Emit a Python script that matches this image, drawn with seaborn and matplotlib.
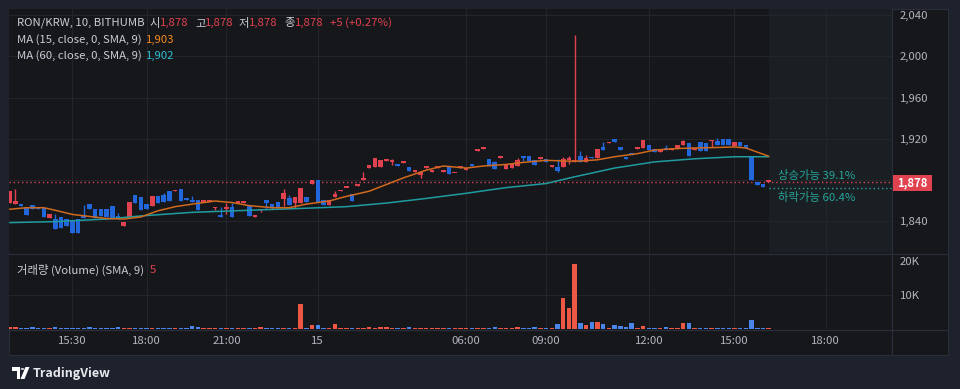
import numpy as np
import pandas as pd
import matplotlib
matplotlib.use('Agg')
import matplotlib.pyplot as plt
from matplotlib.patches import Rectangle, Polygon, Circle
from matplotlib.lines import Line2D
import seaborn as sns

# ---- data (10-minute candles, RON/KRW, Bithumb) ----
opens = [1858, 1856.5, 1856, 1854, 1856, 1853.5, 1853, 1843, 1842.5, 1843.5,
         1842.5, 1840.5, 1842.5, 1846, 1856.5, 1851.5, 1851.5, 1851.5, 1855, 1844.5,
         1835, 1844, 1865.5, 1863, 1857, 1854.5, 1864, 1865, 1869, 1869,
         1871.5, 1862.5, 1860.5, 1860.5, 1859, 1858.5, 1852.5, 1846, 1851.5, 1853.5,
         1857.5, 1857.5, 1855, 1844, 1850.5, 1860, 1856.5, 1858.5, 1861, 1862.5,
         1858, 1857.5, 1863, 1876.5, 1880, 1860.5, 1856, 1863.5, 1869, 1872,
         1866, 1874.5, 1880, 1892, 1892.5, 1892.5, 1898, 1897.5, 1895.5, 1896.5,
         1893, 1888, 1884.5, 1892, 1888, 1891.5, 1888, 1892.5, 1886.5, 1892,
         1890, 1895.5, 1908.5, 1910.5, 1900, 1897.5, 1901.5, 1890.5, 1891.5, 1893.5,
         1903.5, 1903.5, 1899, 1900.5, 1900, 1892.5, 1893, 1892.5, 1899.5, 1897.5,
         1903.5, 1897.5, 1902.5, 1901.5, 1911.5, 1915.5, 1919.5, 1911.5, 1902, 1906,
         1910.5, 1911, 1914, 1910, 1907, 1911, 1909.5, 1910.5, 1913.5, 1916,
         1909.5, 1916.5, 1916, 1917.5, 1917.5, 1919.5, 1919.5, 1913, 1916.5, 1914,
         1902.5, 1877.5, 1876, 1878]
highs = [1869, 1871.5, 1856, 1854, 1856, 1853.5, 1853, 1847, 1847, 1843.5,
         1842.5, 1840.5, 1842.5, 1855.5, 1856.5, 1851.5, 1851.5, 1851.5, 1855, 1847.5,
         1839.5, 1858.5, 1865.5, 1863, 1857, 1864.5, 1864, 1867, 1869, 1870.5,
         1871.5, 1862.5, 1864.5, 1860.5, 1860.5, 1859.5, 1854, 1853.5, 1857.5, 1857.5,
         1858, 1858.5, 1855, 1845, 1851.5, 1860, 1856.5, 1858.5, 1871.5, 1865,
         1863, 1872, 1863, 1880, 1880, 1860.5, 1860.5, 1869, 1870, 1872.5,
         1866, 1875.5, 1887.5, 1894, 1901.5, 1899, 1900, 1900.5, 1895.5, 1897.5,
         1893, 1889.5, 1888, 1893.5, 1889.5, 1892.5, 1889.5, 1892.5, 1887, 1893,
         1891.5, 1895.5, 1909.5, 1912, 1900, 1898.5, 1902, 1894.5, 1895, 1901.5,
         1903.5, 1903.5, 1899, 1902, 1900, 1894, 1900, 1902.5, 1903, 2021,
         1908, 1904.5, 1902.5, 1910.5, 1917, 1917, 1919.5, 1911.5, 1902, 1906,
         1912, 1918.5, 1914, 1910, 1908, 1913.5, 1910.5, 1914, 1918.5, 1916,
         1910.5, 1916.5, 1916, 1918.5, 1921, 1919.5, 1919.5, 1917, 1916.5, 1914,
         1902.5, 1877.5, 1876, 1878]
lows = [1858, 1856.5, 1855, 1846, 1851.5, 1851.5, 1844, 1843, 1832.5, 1833,
        1835.5, 1828, 1828, 1843, 1851.5, 1843, 1844.5, 1844, 1842.5, 1842.5,
        1835, 1844, 1857.5, 1850.5, 1852, 1854.5, 1858, 1858.5, 1859.5, 1869,
        1859.5, 1860, 1858.5, 1851, 1859, 1858.5, 1850.5, 1843.5, 1847, 1844,
        1857.5, 1857.5, 1845, 1844, 1849, 1851.5, 1851.5, 1853, 1855, 1855.5,
        1853, 1857.5, 1858.5, 1876.5, 1858.5, 1856, 1856, 1863.5, 1869, 1872,
        1859.5, 1874.5, 1880, 1892, 1892.5, 1892.5, 1898, 1894, 1893.5, 1896.5,
        1888.5, 1888, 1882, 1892, 1888, 1891.5, 1888, 1885.5, 1886.5, 1892,
        1890, 1893.5, 1908.5, 1910.5, 1893.5, 1891, 1901.5, 1890.5, 1891.5, 1893.5,
        1898, 1898, 1894.5, 1900.5, 1897, 1892.5, 1887.5, 1892.5, 1895.5, 1897,
        1897.5, 1897.5, 1901, 1901.5, 1909.5, 1915.5, 1917, 1909.5, 1900, 1904,
        1910.5, 1911, 1909, 1907, 1907, 1909, 1909.5, 1910.5, 1913.5, 1903.5,
        1909.5, 1908.5, 1908.5, 1912, 1913.5, 1913.5, 1913.5, 1913, 1912.5, 1911,
        1879.5, 1875.5, 1873, 1878]
closes = [1869, 1859.5, 1855, 1846, 1851.5, 1851.5, 1844, 1847, 1832.5, 1833,
          1835.5, 1828, 1828, 1843, 1851.5, 1843, 1844.5, 1844, 1842.5, 1842.5,
          1839.5, 1858.5, 1857.5, 1850.5, 1852, 1864.5, 1858, 1858.5, 1859.5, 1870.5,
          1859.5, 1860, 1858.5, 1851, 1860.5, 1859.5, 1854, 1843.5, 1853.5, 1844,
          1858, 1858.5, 1845, 1845, 1851.5, 1857.5, 1854, 1853, 1867, 1855.5,
          1863, 1872, 1858.5, 1880, 1858.5, 1856, 1860.5, 1866, 1870, 1872.5,
          1859.5, 1875.5, 1880.5, 1894, 1901.5, 1899, 1900, 1898.5, 1893.5, 1897.5,
          1888.5, 1889.5, 1888, 1893.5, 1889.5, 1892.5, 1889.5, 1885.5, 1887, 1893,
          1891.5, 1893.5, 1909.5, 1912, 1893.5, 1891, 1902, 1894.5, 1895, 1899,
          1901, 1898, 1894.5, 1902, 1897, 1894, 1889, 1900.5, 1901, 1899,
          1897.5, 1901, 1901, 1910.5, 1909.5, 1917, 1917, 1909.5, 1900, 1904,
          1912, 1918.5, 1909, 1907, 1908, 1909, 1910.5, 1914, 1917.5, 1903.5,
          1910.5, 1908.5, 1908.5, 1918.5, 1913.5, 1913.5, 1913.5, 1917, 1912.5, 1911,
          1879.5, 1875.5, 1873, 1878]
volumes = [500, 500, 300, 300, 500, 300, 300, 300, 500, 300,
           300, 300, 300, 300, 500, 300, 300, 300, 300, 500,
           300, 300, 300, 300, 300, 300, 300, 300, 300, 300,
           300, 300, 900, 500, 300, 300, 300, 300, 300, 300,
           300, 300, 300, 300, 500, 300, 300, 300, 300, 300,
           300, 7450, 300, 1160, 1160, 300, 400, 1450, 300, 300,
           300, 300, 300, 500, 300, 500, 500, 300, 300, 300,
           500, 300, 300, 300, 300, 300, 300, 300, 300, 300,
           300, 300, 300, 300, 300, 500, 300, 300, 300, 500,
           300, 300, 500, 300, 300, 300, 1450, 9070, 6090, 19040,
           1740, 1060, 2030, 2030, 1450, 400, 1160, 870, 580, 1640,
           300, 870, 300, 300, 300, 500, 300, 300, 1640, 1640,
           300, 300, 300, 300, 300, 300, 300, 300, 300, 300,
           2610, 300, 300, 300]

# moving averages (bar index, value)
ma15_idx = [0, 3, 6, 8, 11, 14, 17, 20, 23, 26, 29, 32, 36, 39, 42, 46, 49, 52, 56, 59,
            63, 66, 69, 73, 76, 80, 83, 87, 90, 94, 99, 103, 106, 110, 113, 117, 120,
            124, 127, 129, 131, 133]
ma15_val = [1851.5, 1853, 1853, 1850.5, 1846.5, 1844.5, 1842.5, 1842, 1844, 1850, 1854,
            1856.5, 1859.5, 1858, 1855, 1853, 1853, 1856.5, 1859.5, 1864, 1869, 1875.5,
            1882, 1889.5, 1893.5, 1891.5, 1893.5, 1895, 1897, 1899, 1898, 1899.5, 1902.5,
            1905.5, 1909, 1910.5, 1911, 1911.5, 1912, 1911, 1907, 1903]
ma60_idx = [0, 8, 17, 23, 32, 42, 52, 59, 66, 73, 80, 87, 94, 99, 106, 113, 120, 127, 133]
ma60_val = [1838.5, 1839.5, 1842, 1845, 1848.5, 1850.5, 1852.5, 1854, 1857.5, 1862, 1867,
            1872.5, 1876.5, 1883, 1891.5, 1897.5, 1900.5, 1902.5, 1902.5]

time_ticks = [11, 24, 38, 54, 80, 94, 112, 127, 143]
time_labels = ['15:30', '18:00', '21:00', '15', '06:00', '09:00', '12:00', '15:00', '18:00']
price_ticks = [1840, 1880, 1920, 1960, 2000, 2040]
price_labels = ['1,840', '', '1,920', '1,960', '2,000', '2,040']
vol_ticks = [10000, 20000]
vol_labels = ['10K', '20K']
last_price = 1878

# ---- style ----
FRAME = '#1e222d'
BG = '#16171b'
FUTURE = '#1a1f23'
GRID = '#23252b'
SEP = '#2a2e39'
TXT = '#b2b5be'
UP = '#e0424f'
DOWN = '#2266db'
VUP = '#ee5744'
VDOWN = '#4a86ea'
TEAL = '#26a69a'
FS = 8.2

sns.set_theme(style='dark')
plt.rcParams['font.family'] = ['Noto Sans CJK KR', 'DejaVu Sans']

W, H = 960, 389
def fx(x):
    return x / W
def fy(y):
    return 1 - y / H

df = pd.DataFrame({'o': opens, 'h': highs, 'l': lows, 'c': closes, 'v': volumes})
df['i'] = np.arange(len(df))
df['up'] = df['c'] >= df['o']

fig = plt.figure(figsize=(9.6, 3.89), dpi=100, facecolor=FRAME)
fig.patches.append(Rectangle((fx(9), fy(355)), fx(948) - fx(9), fy(9) - fy(355),
                             transform=fig.transFigure, facecolor=BG,
                             edgecolor=SEP, lw=0.8, zorder=-5))

ax_p = fig.add_axes([fx(9), fy(253), fx(892) - fx(9), fy(9) - fy(253)])
ax_v = fig.add_axes([fx(9), fy(329), fx(892) - fx(9), fy(255) - fy(329)], sharex=ax_p)

for ax in (ax_p, ax_v):
    ax.set_facecolor(BG)
    for s in ax.spines.values():
        s.set_visible(False)
    ax.set_xticks(time_ticks)
    ax.grid(True, axis='x', color=GRID, lw=0.8)
    ax.set_axisbelow(True)

# ---- price pane ----
ax_p.axvspan(133, 160, color=FUTURE, zorder=0, lw=0)
ax_p.set_yticks(price_ticks)
ax_p.grid(True, axis='y', color=GRID, lw=0.8)

col = np.where(df['up'], UP, DOWN)
ax_p.vlines(df['i'], df['l'], df['h'], colors=col, lw=1.0, zorder=2)
body = np.maximum((df['c'] - df['o']).abs(), 1.6)
ax_p.bar(df['i'], body, bottom=np.minimum(df['o'], df['c']), width=0.8,
         color=col, lw=0, zorder=3)

sns.lineplot(x=ma60_idx, y=ma60_val, ax=ax_p, color='#1f9c9f', lw=1.1, zorder=4)
sns.lineplot(x=ma15_idx, y=ma15_val, ax=ax_p, color='#cf6a1e', lw=1.1, zorder=4)

ax_p.axhline(last_price, color=UP, lw=1, ls=(0, (1, 2)), zorder=1)
ax_p.hlines(1872.5, 133, 160, color=TEAL, lw=1, ls=(0, (1, 2)), zorder=1)

ax_p.set_xlim(-0.1, 154.6)
ax_p.set_ylim(1809, 2046)
ax_p.yaxis.tick_right()
ax_p.set_yticklabels(price_labels)
ax_p.tick_params(axis='y', length=0, pad=5.8, labelcolor=TXT, labelsize=FS)
ax_p.tick_params(axis='x', length=0, labelbottom=False)
ax_p.set_xlabel('')
ax_p.set_ylabel('')

ax_p.text(134.6, 1884, '상승가능 39.1%', color=TEAL, fontsize=FS, va='center', ha='left')
ax_p.text(134.6, 1862.5, '하락가능 60.4%', color=TEAL, fontsize=FS, va='center', ha='left')

# ---- volume pane ----
vcol = np.where(df['up'], VUP, VDOWN)
ax_v.bar(df['i'], df['v'], width=0.78, color=vcol, lw=0, zorder=3)
ax_v.axhline(10000, color=GRID, lw=0.8, zorder=0)
ax_v.set_ylim(0, 21740)
ax_v.yaxis.tick_right()
ax_v.set_yticks(vol_ticks)
ax_v.set_yticklabels(vol_labels)
ax_v.tick_params(axis='y', length=0, pad=5.8, labelcolor=TXT, labelsize=FS)
ax_v.set_xticklabels(time_labels)
ax_v.tick_params(axis='x', length=0, pad=5, labelcolor=TXT, labelsize=FS)

# ---- separators ----
for xs, ys in [([892, 892], [9, 355]), ([9, 948], [254, 254]), ([9, 948], [329.5, 329.5])]:
    fig.add_artist(Line2D([fx(x) for x in xs], [fy(y) for y in ys],
                          transform=fig.transFigure, color=SEP, lw=0.9))

# last price tag
fig.patches.append(Rectangle((fx(893), fy(191)), fx(932) - fx(893), fy(175) - fy(191),
                             transform=fig.transFigure, facecolor=UP, lw=0, zorder=5))
fig.text(fx(912.5), fy(183), '1,878', color='white', fontsize=FS, fontweight='bold',
         ha='center', va='center', zorder=6)

# ---- legend texts ----
def put(x, y, s, c, **kw):
    fig.text(fx(x), fy(y), s, color=c, fontsize=FS, ha='left', va='center', **kw)

LEG = '#c9ccd4'
put(17, 23, 'RON/KRW, 10, BITHUMB', LEG)
for x0, lab, x1 in [(150, '시', 160), (195, '고', 205), (239, '저', 249), (284, '종', 295)]:
    put(x0, 23, lab, LEG)
    put(x1, 23, '1,878', UP)
put(330, 23, '+5 (+0.27%)', UP)
put(17, 40, 'MA (15, close, 0, SMA, 9)', LEG)
put(146, 40, '1,903', '#f58a1f')
put(17, 56, 'MA (60, close, 0, SMA, 9)', LEG)
put(146, 56, '1,902', '#2bc0d3')
put(17, 270, '거래량 (Volume) (SMA, 9)', LEG)
put(150, 270, '5', UP)

# TradingView mark
fig.patches.append(Polygon([(fx(12), fy(367)), (fx(20), fy(367)), (fx(20), fy(379)),
                            (fx(16.5), fy(379)), (fx(16.5), fy(370.5)), (fx(12), fy(370.5))],
                           closed=True, transform=fig.transFigure, facecolor='white', lw=0))
fig.patches.append(Circle((fx(22.5), fy(369)), 1.9 / W, transform=fig.transFigure,
                          facecolor='white', lw=0))
fig.patches.append(Polygon([(fx(25.5), fy(367)), (fx(29.5), fy(367)), (fx(24.5), fy(379)),
                            (fx(20.5), fy(379))],
                           closed=True, transform=fig.transFigure, facecolor='white', lw=0))
fig.text(fx(33), fy(373), 'TradingView', color='#e8e9ed', fontsize=9, fontweight='bold',
         ha='left', va='center')

plt.savefig('out.png', dpi=100, facecolor=FRAME)
plt.close()
